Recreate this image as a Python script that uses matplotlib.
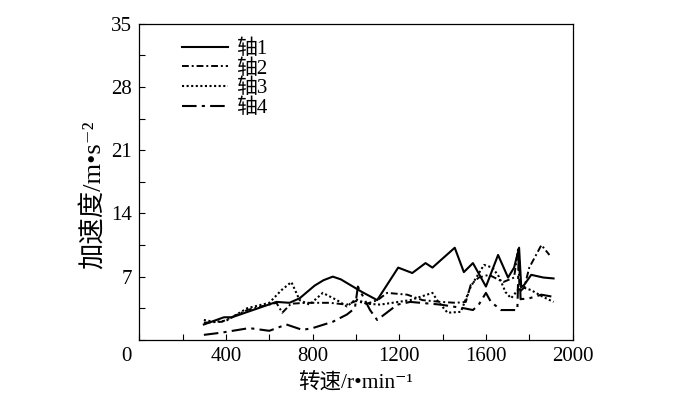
import matplotlib
matplotlib.use("Agg")
from matplotlib import pyplot as plt
from matplotlib.ticker import MultipleLocator

# font: serif for digits, CJK fallback for the Chinese glyphs
fam = ['Liberation Serif', 'Noto Sans CJK SC', 'DejaVu Serif']
plt.rcParams['font.family'] = fam
plt.rcParams['axes.unicode_minus'] = False

# axis 1 (solid)
x1 = [298, 391, 428, 633, 693, 740, 809, 850, 893, 930, 972, 1028, 1098, 1195, 1260,
      1321, 1353, 1456, 1498, 1540, 1600, 1656, 1702, 1730, 1753, 1763, 1777, 1809,
      1865, 1912]
y1 = [1.7, 2.5, 2.5, 4.2, 4.1, 4.6, 6.0, 6.6, 7.0, 6.7, 6.1, 5.3, 4.4, 8.0, 7.4,
      8.5, 8.0, 10.2, 7.5, 8.5, 5.9, 9.4, 6.9, 8.0, 10.2, 5.8, 6.1, 7.2,
      6.9, 6.8]

# axis 2 (short dash-dot)
x2 = [298, 381, 498, 563, 633, 660, 700, 772, 879, 958, 1000, 1050, 1100, 1144, 1237,
      1307, 1391, 1460, 1507, 1530, 1567, 1614, 1680, 1730, 1749, 1755, 1777, 1800,
      1856, 1893]
y2 = [1.9, 2.0, 3.3, 3.7, 4.1, 3.0, 4.0, 4.1, 4.1, 3.9, 4.3, 4.0, 4.4, 5.2, 5.0,
      4.4, 4.2, 4.1, 4.2, 6.1, 6.9, 7.2, 6.4, 6.9, 10.2, 5.3, 5.8, 8.0,
      10.5, 9.4]

# axis 3 (dotted)
x3 = [298, 344, 400, 498, 600, 656, 702, 740, 786, 847, 912, 958, 1000, 1050, 1112,
      1251, 1353, 1380, 1423, 1484, 1530, 1591, 1630, 1660, 1690, 1716, 1760, 1809,
      1860, 1912]
y3 = [2.2, 2.0, 2.1, 3.5, 4.1, 5.5, 6.4, 4.4, 3.9, 5.2, 4.4, 3.7, 4.5, 4.0, 3.9,
      4.4, 5.2, 4.2, 3.0, 3.1, 5.9, 8.3, 8.0, 7.0, 5.3, 4.6, 5.9, 5.5,
      4.8, 4.2]

# axis 4 (long dash-dot)
x4 = [298, 381, 507, 600, 679, 753, 800, 893, 958, 995, 1009, 1065, 1098, 1191, 1251,
      1391, 1498, 1540, 1567, 1600, 1623, 1670, 1745, 1752, 1760, 1800, 1856, 1902]
y4 = [0.55, 0.8, 1.3, 1.0, 1.7, 1.1, 1.3, 2.0, 2.8, 3.5, 5.9, 3.3, 2.2, 3.9, 4.2,
      3.9, 3.5, 3.3, 3.9, 5.2, 4.2, 3.3, 3.3, 9.8, 4.5, 4.6, 5.0, 4.8]

labels = ['轴1', '轴2', '轴3', '轴4']
xtick_vals = [0, 400, 800, 1200, 1600, 2000]
ytick_vals = [7, 14, 21, 28, 35]

fig = plt.figure(figsize=(7, 3.97), dpi=100)
ax = fig.add_axes([0.199, 0.144, 0.619, 0.796])

ax.plot(x1, y1, color='black', lw=1.5, ls='-', label=labels[0])
ax.plot(x2, y2, color='black', lw=1.4, ls=(0, (3.5, 1.5, 1, 1.5)), label=labels[1])
ax.plot(x3, y3, color='black', lw=1.5, ls=(0, (1, 1.2)), label=labels[2])
ax.plot(x4, y4, color='black', lw=1.5, ls=(0, (7, 2.5, 1.5, 2.5)), label=labels[3])

ax.set_xlim(0, 2000)
ax.set_ylim(0, 35)
ax.set_xticks(xtick_vals)
ax.set_xticklabels([''] + [str(v) for v in xtick_vals[1:]])
ax.set_yticks(ytick_vals)
ax.set_yticklabels([str(v) for v in ytick_vals])
ax.xaxis.set_minor_locator(MultipleLocator(200))
ax.yaxis.set_minor_locator(MultipleLocator(3.5))
ax.tick_params(which='both', direction='in', length=4, width=0.8,
               labelsize=15, pad=5)

# shared origin label
ax.annotate('0', xy=(0, 0), xycoords='data', xytext=(-9, -5),
            textcoords='offset points', ha='center', va='top', fontsize=15)

for s in ax.spines.values():
    s.set_linewidth(0.9)

ax.set_xlabel('转速/r\u2022min⁻¹', fontsize=15.5, labelpad=5)
ax.set_ylabel('加速度/m\u2022s⁻²', fontsize=19)
ax.yaxis.set_label_coords(-0.078, 0.46)

leg = ax.legend(loc='upper left', bbox_to_anchor=(0.07, 0.99), frameon=False,
                fontsize=15, handlelength=2.2, handletextpad=0.4,
                labelspacing=0.0, borderaxespad=0.2)

fig.savefig('out.png', dpi=100)
